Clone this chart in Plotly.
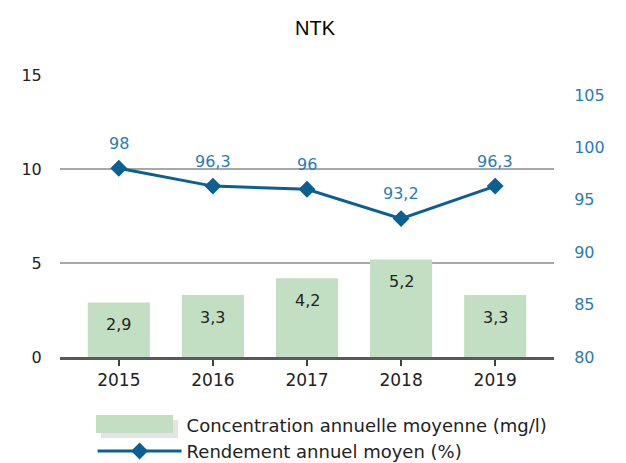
import plotly.graph_objects as go

years = ["2015", "2016", "2017", "2018", "2019"]
concentration = [2.9, 3.3, 4.2, 5.2, 3.3]
rendement = [98, 96.3, 96, 93.2, 96.3]
conc_labels = ["2,9", "3,3", "4,2", "5,2", "3,3"]
rend_labels = ["98", "96,3", "96", "93,2", "96,3"]
left_ticks = [0, 5, 10, 15]
right_ticks = [80, 85, 90, 95, 100, 105]

BAR = "#c3dfc3"
LINE = "#0c5f93"
LBL = "#2a7cb3"
FONT = "DejaVu Sans"

W, H = 626, 463
ML, MR, MT, MB = 60, 72, 75, 106
PW, PH = W - ML - MR, H - MT - MB


def px_x(p):
    return (p - ML) / PW


def px_y(p):
    return (H - MB - p) / PH


fig = go.Figure()
fig.add_trace(go.Bar(
    x=years, y=concentration, name="Concentration annuelle moyenne (mg/l)",
    marker=dict(color=BAR, line=dict(width=0)), width=0.66, yaxis="y",
))
fig.add_trace(go.Scatter(
    x=years, y=rendement, name="Rendement annuel moyen (%)", yaxis="y2",
    mode="lines+markers", line=dict(color=LINE, width=3),
    marker=dict(symbol="diamond", size=13, color=LINE),
))

for i, (v, t) in enumerate(zip(concentration, conc_labels)):
    fig.add_annotation(x=i, xref="x", y=v, yref="y", text=t, showarrow=False,
                       yshift=-22, font=dict(family=FONT, size=16, color="#222222"))
for i, (v, t) in enumerate(zip(rendement, rend_labels)):
    fig.add_annotation(x=i, xref="x", y=v, yref="y2", text=t, showarrow=False,
                       yshift=25, font=dict(family=FONT, size=16, color=LBL))

# wide legend swatch for the bar series (with light shadow), like the original
fig.add_shape(type="rect", xref="paper", yref="paper", layer="above",
              x0=px_x(101), x1=px_x(178), y0=px_y(438), y1=px_y(420),
              fillcolor="#e4e4e4", line=dict(width=0))
fig.add_shape(type="rect", xref="paper", yref="paper", layer="above",
              x0=px_x(96), x1=px_x(173), y0=px_y(433), y1=px_y(415),
              fillcolor=BAR, line=dict(width=0))

fig.update_layout(
    width=W, height=H,
    margin=dict(l=ML, r=MR, t=MT, b=MB, autoexpand=False),
    paper_bgcolor="white", plot_bgcolor="white",
    title=dict(text="NTK", x=315 / W, xanchor="center", xref="container",
               y=1 - 28 / H, yanchor="middle", yref="container",
               font=dict(family="Liberation Sans", size=20, color="#000000")),
    showlegend=True,
    legend=dict(x=0.066, xanchor="left", y=-0.175, yanchor="top",
                orientation="v", itemwidth=84, tracegroupgap=0,
                font=dict(family=FONT, size=18, color="#222222"),
                bgcolor="rgba(0,0,0,0)"),
    xaxis=dict(type="category", range=[-0.625, 4.625], showgrid=False,
               automargin=False,
               showline=True, linecolor="#595959", linewidth=3,
               ticks="outside", ticklen=6, tickcolor="#404040", tickwidth=1.5,
               tickfont=dict(family=FONT, size=17, color="#222222")),
    yaxis=dict(range=[0, 15.03], tickvals=left_ticks, showgrid=True,
               automargin=False,
               gridcolor="#a8a8a8", gridwidth=1.5, zeroline=False,
               ticks="outside", ticklen=14, tickcolor="rgba(0,0,0,0)",
               tickfont=dict(family=FONT, size=16, color="#222222")),
    yaxis2=dict(range=[80, 106.9], tickvals=right_ticks, overlaying="y", side="right",
                automargin=False,
                showgrid=False, zeroline=False,
                ticks="outside", ticklen=16, tickcolor="rgba(0,0,0,0)",
                tickfont=dict(family=FONT, size=16, color=LBL)),
    bargap=0.34,
)

fig.write_html("out.html", config={"displayModeBar": False},
               post_script="document.body.style.margin='0px';document.body.style.overflow='hidden';")
